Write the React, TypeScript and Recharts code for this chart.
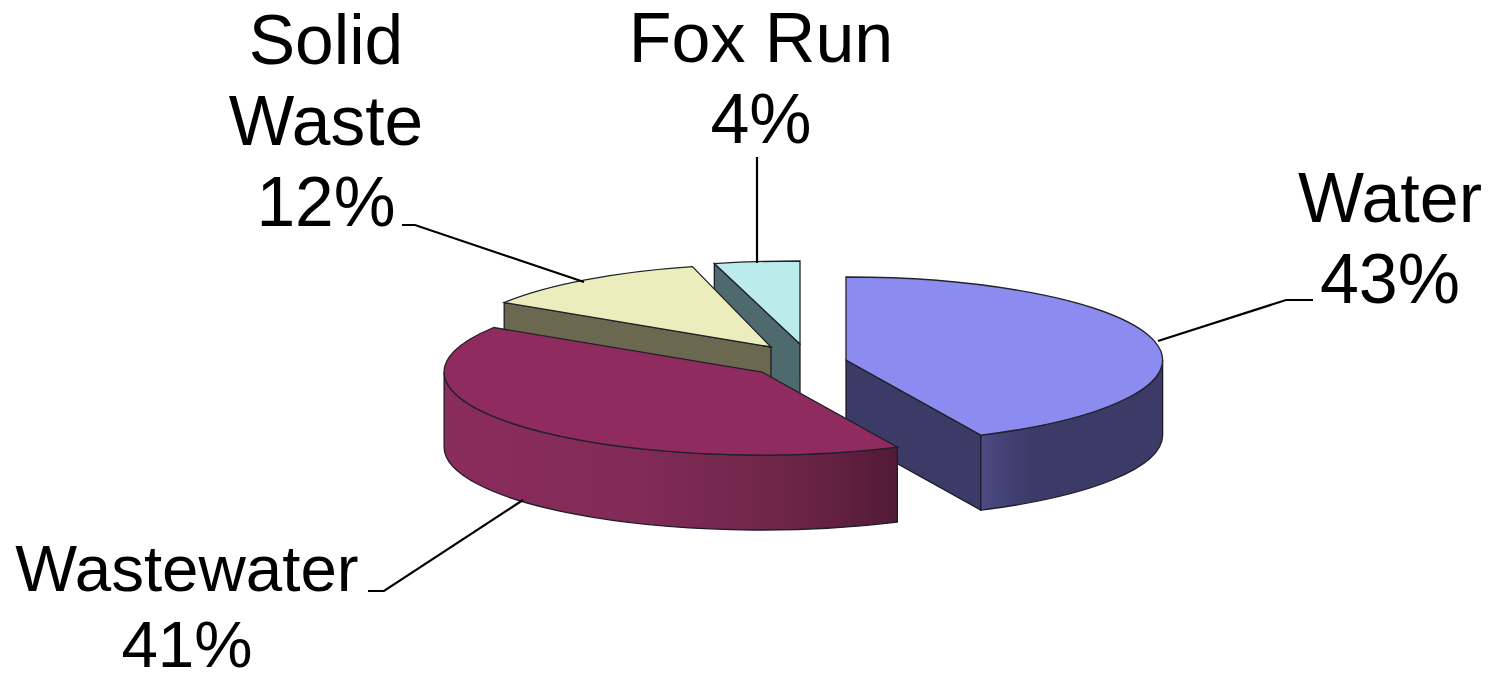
import React from 'react';
import { PieChart, Pie } from 'recharts';

// Painter's order: going counter-clockwise from Water keeps Wastewater on top.
const names = ['Water', 'Fox Run', 'Solid Waste', 'Wastewater'];
const shares = [43, 4, 12, 41];
const tableData = names.map((name, i) => ({ name, value: shares[i] }));

const SQUASH = 0.2627;
const DEPTH = 75;
const BASE_CX = 804;
const BASE_CY = 360;
const RADIUS = 316;

type SliceStyle = {
  dx: number; dy: number; rxScale: number;
  top: string; face: string;
  wall: [number, string][];
};

const sliceStyles: Record<string, SliceStyle> = {
  Water: {
    dx: 42, dy: 0, rxScale: 1.002, top: '#8c8cf0', face: '#3c3a66',
    wall: [[0, '#4c4c84'], [0.18, '#403f70'], [0.3, '#3c3a66'], [1, '#3c3a66']],
  },
  'Fox Run': {
    dx: -4, dy: -16, rxScale: 1.09, top: '#bbecec', face: '#4f6a6d',
    wall: [[0, '#4f6a6d'], [1, '#4f6a6d']],
  },
  'Solid Waste': {
    dx: -33, dy: -13, rxScale: 1, top: '#ecedbd', face: '#6b6850',
    wall: [[0, '#6b6850'], [1, '#6b6850']],
  },
  Wastewater: {
    dx: -42, dy: 12, rxScale: 1.006, top: '#8f2b5f', face: '#541a38',
    wall: [[0, '#8a2c5c'], [0.42, '#822b57'], [0.68, '#72274b'], [0.85, '#642142'], [1, '#521a37']],
  },
};

const labelLayout: Record<string, { x: number; size: number; lines: string[]; baseline: number; step: number; leader: [number, number][] }> = {
  Water: { x: 1390, size: 70, lines: ['Water'], baseline: 222, step: 80.5, leader: [[1313, 300], [1286, 300], [1158, 341]] },
  'Fox Run': { x: 761, size: 70, lines: ['Fox Run'], baseline: 62, step: 81, leader: [[757, 157], [757, 263]] },
  'Solid Waste': { x: 326, size: 69.5, lines: ['Solid', 'Waste'], baseline: 64, step: 81, leader: [[402, 225], [415, 225], [584, 282]] },
  Wastewater: { x: 187, size: 65.5, lines: ['Wastewater'], baseline: 591, step: 76, leader: [[368, 591], [384, 591], [523, 500]] },
};

function WedgeShape(props: any) {
  const { cx, cy, outerRadius, startAngle, endAngle, name, payload } = props;
  const key = name ?? payload?.name;
  const s = sliceStyles[key];
  const rx = outerRadius * s.rxScale;
  const ry = outerRadius * SQUASH;
  const mx = cx + s.dx;
  const my = cy + s.dy;
  // clockwise degrees measured from 12 o'clock
  const a0 = 90 - endAngle;
  const a1 = 90 - startAngle;
  const pt = (deg: number, drop = 0) => {
    const r = (deg * Math.PI) / 180;
    return [mx + rx * Math.sin(r), my - ry * Math.cos(r) + drop];
  };
  const [ax, ay] = pt(a0);
  const [bx, by] = pt(a1);
  const large = a1 - a0 > 180 ? 1 : 0;
  const topPath = `M${mx},${my} L${ax},${ay} A${rx},${ry} 0 ${large} 1 ${bx},${by} Z`;
  const facePath = (x: number, y: number) =>
    `M${mx},${my} L${x},${y} L${x},${y + DEPTH} L${mx},${my + DEPTH} Z`;
  // a cut face is drawn only when it turns towards the viewer
  const sinDeg = (d: number) => Math.sin((d * Math.PI) / 180);
  const showStart = sinDeg(a0) < -1e-6;
  const showEnd = sinDeg(a1) > 1e-6;

  const norm = (d: number) => ((d % 360) + 360) % 360;
  const n0 = norm(a0);
  const n1 = n0 + (a1 - a0);
  const w0 = Math.max(n0, 90);
  const w1 = Math.min(n1, 270);
  let wall: React.ReactNode = null;
  const id = `wall-${key.replace(/\s/g, '')}`;
  let defs: React.ReactNode = null;
  if (w1 > w0) {
    const [p, q] = pt(w0);
    const [u, v] = pt(w1);
    const d = `M${p},${q} A${rx},${ry} 0 0 1 ${u},${v} L${u},${v + DEPTH} A${rx},${ry} 0 0 0 ${p},${q + DEPTH} Z`;
    defs = (
      <defs>
        <linearGradient id={id} gradientUnits="userSpaceOnUse" x1={Math.min(p, u)} x2={Math.max(p, u)} y1={0} y2={0}>
          {s.wall.map(([o, c]) => (
            <stop key={o} offset={o} stopColor={c} />
          ))}
        </linearGradient>
      </defs>
    );
    wall = <path d={d} fill={`url(#${id})`} stroke="#1c1c2a" strokeWidth={1.3} />;
  }
  return (
    <g>
      {defs}
      {showStart && <path d={facePath(ax, ay)} fill={s.face} stroke="#1c1c2a" strokeWidth={1.3} />}
      {showEnd && <path d={facePath(bx, by)} fill={s.face} stroke="#1c1c2a" strokeWidth={1.3} />}
      {wall}
      <path d={topPath} fill={s.top} stroke="#22222a" strokeWidth={1.3} />
    </g>
  );
}

function SliceLabel(props: any) {
  const key = props.name ?? props.payload?.name;
  const value = props.value ?? props.payload?.value;
  const l = labelLayout[key];
  const all = [...l.lines, `${value}%`];
  return (
    <g>
      <polyline points={l.leader.map((p) => p.join(',')).join(' ')} fill="none" stroke="#000" strokeWidth={2.2} />
      {all.map((t, i) => (
        <text
          key={t}
          x={l.x}
          y={l.baseline + i * l.step}
          textAnchor="middle"
          fontFamily="'Liberation Sans', Arial, sans-serif"
          fontSize={l.size}
          fill="#000"
        >
          {t}
        </text>
      ))}
    </g>
  );
}

export default function App() {
  return (
    <div style={{ position: 'absolute', left: 0, top: 0, width: 1490, height: 674, overflow: 'hidden', background: '#fff' }}>
      <PieChart width={1490} height={674} margin={{ top: 0, right: 0, bottom: 0, left: 0 }}>
        <Pie
          data={tableData}
          dataKey="value"
          nameKey="name"
          cx={BASE_CX}
          cy={BASE_CY}
          innerRadius={0}
          outerRadius={RADIUS}
          startAngle={-64.8}
          endAngle={295.2}
          paddingAngle={0}
          isAnimationActive={false}
          shape={WedgeShape}
          label={SliceLabel}
          labelLine={false}
        />
      </PieChart>
    </div>
  );
}
